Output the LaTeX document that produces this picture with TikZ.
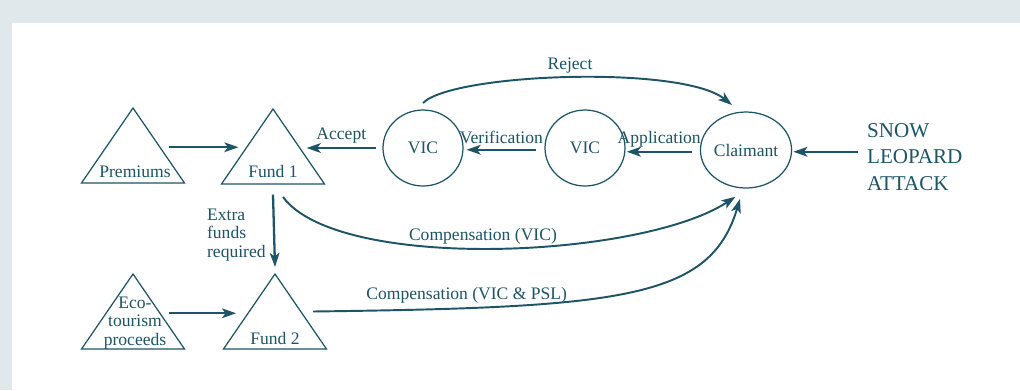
\documentclass[tikz,border=0pt]{standalone}
\usepackage{fontspec}
\setmainfont{Liberation Serif}
\usepackage{tikz}
\usetikzlibrary{arrows.meta, shapes.geometric}
\definecolor{ink}{HTML}{1D5466}
\definecolor{pagebg}{HTML}{E1E8EB}

\begin{document}
\begin{tikzpicture}[x=0.02cm, y=-0.02cm,
  tri/.style={draw=ink, line width=0.7pt, isosceles triangle, isosceles triangle stretches,
    shape border rotate=90, minimum width=2.06cm, minimum height=1.5cm, inner sep=0pt, outer sep=0pt, anchor=apex},
  circ/.style={draw=ink, line width=0.7pt, ellipse, minimum width=1.6cm, minimum height=1.52cm, inner sep=0pt, outer sep=0pt},
  lbl/.style={text=ink, font=\fontsize{10}{10.5}\selectfont, inner sep=1pt},
  flow/.style={draw=ink, line width=1.3pt, -{Stealth[length=8pt, width=5.5pt, inset=2pt]}},
  curv/.style={flow, line width=1.1pt}]
% page
\fill[pagebg] (0,0) rectangle (1020,390);
\fill[white] (12,23) rectangle (1020,390);
\useasboundingbox (0,0) rectangle (1020,390);

% funds
\node[tri] (prem) at (133,108) {};
\node[tri] (fund1) at (273,109) {};
\node[tri] (eco) at (133,274) {};
\node[tri] (fund2) at (275,274) {};
\node[lbl] (premtext) at (135,172) {Premiums};
\node[lbl] (fund1text) at (273,171) {Fund 1};
\node[lbl, align=center] (ecotext) at (135,323) {Eco-\\tourism\\proceeds};
\node[lbl] (fund2text) at (275,338) {Fund 2};

% claim chain
\node[circ, lbl, line width=0.7pt, inner sep=0pt] (vic1) at (423,148) {VIC};
\node[circ, lbl, line width=0.7pt, inner sep=0pt] (vic2) at (585,148) {VIC};
\node[circ, lbl, line width=0.7pt, inner sep=0pt] (claim) at (746,150) {Claimant};
\node[lbl, align=left, anchor=west, font=\fontsize{12}{15}\selectfont] (attack) at (865,157) {SNOW\\LEOPARD\\ATTACK};

\draw[flow] ([xshift=6pt,yshift=-1pt]prem.right side) -- ([xshift=-5pt,yshift=-1pt]prem.right side -| fund1.left side);
\draw[flow] ([xshift=6pt,yshift=-1pt]eco.right side) -- ([xshift=-7.5pt,yshift=-1pt]eco.right side -| fund2.left side);
\draw[flow] ([xshift=-4pt]vic1.west) -- ([xshift=4.5pt]vic1.west -| fund1.right side)
  node[lbl, midway, above=1pt] (acc) {Accept};
\draw[flow] ([xshift=-5pt,yshift=-1pt]vic2.west) -- ([xshift=2pt,yshift=-1pt]vic1.east)
  node[lbl, midway, above=2pt] (ver) {Verification};
\draw[flow] ([xshift=-5pt,yshift=-1pt]claim.west) -- ([xshift=1pt,yshift=-1pt]claim.west -| vic2.east)
  node[lbl, midway, above=1pt] (app) {Application};
\draw[flow] ([xshift=-4pt,yshift=-1pt]attack.west |- claim.east) -- ([xshift=1pt,yshift=-1pt]claim.east);

\draw[curv] ([yshift=4pt]vic1.north) .. controls +(30,-30) and +(-50,-40) .. ([shift={(-8pt,4pt)}]claim.north)
  node[lbl, pos=0.5, above=1pt] (rej) {Reject};
\draw[flow] ([yshift=-6pt]fund1.lower side) -- ([yshift=4pt]fund2.apex);
\node[lbl, align=left, anchor=west] (extra) at (205,235) {Extra\\funds\\required};

\draw[curv] ([shift={(5.7pt,-7.4pt)}]fund1.lower side) .. controls +(55,75) and +(-95,62) .. ([shift={(-6pt,-5pt)}]claim.south)
  node[lbl, pos=0.48, above=1pt] (comp1) {Compensation (VIC)};
\draw[curv] ([xshift=7pt]fund2.right side) .. controls +(310,-4) and +(-30,100) .. ([shift={(-3.4pt,-6.2pt)}]claim.south)
  node[lbl, pos=0.19, above=1pt] (comp2) {Compensation (VIC \& PSL)};
\end{tikzpicture}
\end{document}
